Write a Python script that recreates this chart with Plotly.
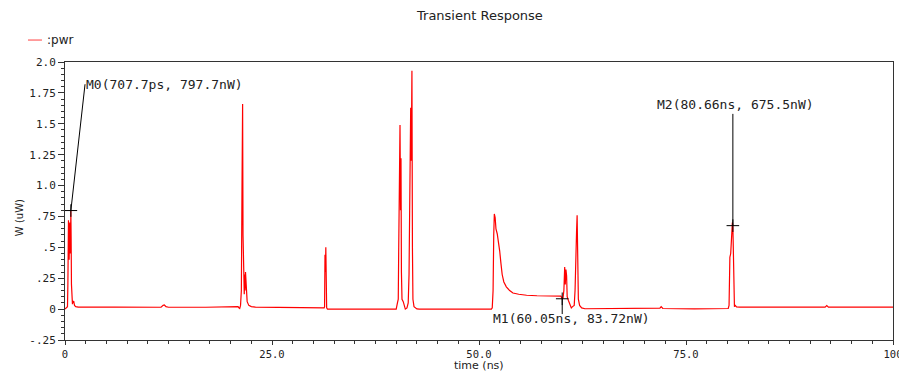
import plotly.graph_objects as go

# ---- data (time in ns, power in uW) ----
time_ns = [
    0.0, 0.15, 0.3, 0.35, 0.42, 0.5, 0.58, 0.65, 0.7077, 0.74, 0.78, 0.82, 0.86, 0.9, 0.94, 0.98, 1.05, 1.15, 1.3, 1.6,
    6.0, 11.6, 11.85, 12.0, 12.2, 12.5,
    17.0, 20.7, 20.9, 21.0, 21.1, 21.2, 21.3, 21.38, 21.45, 21.5, 21.55, 21.6, 21.65, 21.7, 21.75, 21.8, 21.9, 22.0, 22.2, 22.5, 23.0,
    28.0, 31.2, 31.3, 31.35, 31.4, 31.45, 31.5, 31.55, 31.6, 31.7,
    36.0, 40.0, 40.15, 40.25, 40.3, 40.38, 40.46, 40.52, 40.58, 40.63, 40.7, 40.85, 41.0, 41.1, 41.3, 41.45, 41.55, 41.62, 41.75, 41.82, 41.9, 41.96, 42.02, 42.15, 42.3, 42.5, 42.8,
    47.0, 51.5, 51.6, 51.7, 51.78, 51.85, 51.95, 52.05, 52.2, 52.35, 52.5, 52.65, 52.8, 53.0, 53.3, 53.7, 54.1, 54.8, 55.75, 57.0, 58.5, 59.6, 59.9,
    60.05, 60.15, 60.25, 60.35, 60.42, 60.5, 60.58, 60.65, 60.8, 61.0, 61.15, 61.3, 61.5, 61.6, 61.7, 61.78, 61.85, 61.92, 62.0, 62.15, 62.4, 62.8,
    67.0, 71.7, 71.85, 72.0, 72.2,
    76.0, 80.0, 80.1, 80.2, 80.3, 80.4, 80.5, 80.6, 80.66, 80.72, 80.78, 80.85, 80.95, 81.1, 81.5,
    86.0, 91.8, 92.0, 92.2, 96.0, 100.0,
]
power_uw = [
    0.0, 0.01, 0.02, 0.21, 0.72, 0.40, 0.70, 0.45, 0.7977, 0.58, 0.20, 0.05, 0.07, 0.04, 0.07, 0.05, 0.065, 0.03, 0.02, 0.016,
    0.016, 0.015, 0.03, 0.033, 0.02, 0.015,
    0.015, 0.015, 0.02, 0.01, 0.005, 0.03, 0.15, 1.02, 1.66, 0.60, 0.20, 0.25, 0.12, 0.28, 0.15, 0.30, 0.12, 0.06, 0.03, 0.02, 0.016,
    0.016, 0.016, 0.01, 0.02, 0.44, 0.30, 0.50, 0.10, 0.01, 0.0,
    0.0, 0.0, 0.05, 0.08, 0.46, 0.90, 1.49, 0.80, 1.22, 0.30, 0.08, 0.06, 0.02, 0.0, 0.01, 0.05, 0.28, 0.90, 1.63, 1.20, 1.93, 0.50, 0.08, 0.02, 0.015, 0.002, 0.0,
    0.0, 0.0, 0.01, 0.15, 0.60, 0.77, 0.74, 0.65, 0.61, 0.55, 0.47, 0.37, 0.28, 0.22, 0.18, 0.15, 0.13, 0.12, 0.112, 0.108, 0.107, 0.106, 0.105,
    0.0837, 0.09, 0.15, 0.34, 0.20, 0.32, 0.27, 0.10, 0.07, 0.04, 0.01, 0.02, 0.03, 0.15, 0.55, 0.62, 0.76, 0.30, 0.08, 0.03, 0.01, 0.003,
    0.003, 0.003, 0.008, 0.02, 0.005,
    0.002, 0.002, 0.005, 0.03, 0.42, 0.45, 0.60, 0.70, 0.6755, 0.30, 0.05, 0.02, 0.03, 0.018, 0.016,
    0.016, 0.016, 0.028, 0.016, 0.016, 0.016,
]

marker_names = ["M0", "M1", "M2"]
marker_t = [0.7077, 60.05, 80.66]
marker_v = [0.7977, 0.08372, 0.6755]
marker_labels = ["M0(707.7ps, 797.7nW)", "M1(60.05ns, 83.72nW)", "M2(80.66ns, 675.5nW)"]
# label anchor positions (data coords)
label_t = [2.3, 51.4, 71.3]
label_v = [1.82, -0.073, 1.66]
line_end_t = [2.42, 60.05, 80.66]
line_end_v = [1.82, -0.04, 1.58]

x_tickvals = [0, 25, 50, 75, 100]
x_ticktext = ["0", "25.0", "50.0", "75.0", "100"]
y_tickvals = [-0.25, 0, 0.25, 0.5, 0.75, 1.0, 1.25, 1.5, 1.75, 2.0]
y_ticktext = ["-.25", "0", ".25", ".5", ".75", "1.0", "1.25", "1.5", "1.75", "2.0"]

AX = "#333333"
YTICKFONT = dict(family="DejaVu Sans Mono", size=11, color="#222222")
XTICKFONT = dict(family="DejaVu Sans Mono", size=10.5, color="#222222")

fig = go.Figure()
fig.add_trace(go.Scatter(x=time_ns, y=power_uw, mode="lines", name=":pwr",
                         line=dict(color="#ff0000", width=1.2), showlegend=False))
fig.add_trace(go.Scatter(x=marker_t, y=marker_v, mode="markers", showlegend=False,
                         marker=dict(symbol="cross-thin", size=9, line=dict(color="black", width=1))))

shapes = []
for mt, mv, et, ev in zip(marker_t, marker_v, line_end_t, line_end_v):
    shapes.append(dict(type="line", xref="x", yref="y", x0=mt, y0=mv, x1=et, y1=ev,
                       line=dict(color="black", width=1)))
# manual legend sample
shapes.append(dict(type="line", xref="paper", yref="paper", x0=-0.0447, x1=-0.0278,
                   y0=1.079, y1=1.079, line=dict(color="#ff4040", width=1)))

annotations = []
for txt, lt, lv in zip(marker_labels, label_t, label_v):
    annotations.append(dict(x=lt, y=lv, xref="x", yref="y", text=txt, showarrow=False,
                            xanchor="left", yanchor="middle",
                            font=dict(family="DejaVu Sans Mono", size=13, color="#222222")))
annotations += [
    dict(x=-0.0242, y=1.079, xref="paper", yref="paper", text=":pwr", showarrow=False,
         xanchor="left", yanchor="middle", font=dict(family="DejaVu Sans", size=12, color="#222222")),
    dict(x=0.5, y=1.169, xref="paper", yref="paper", text="Transient Response", showarrow=False,
         xanchor="center", yanchor="middle", font=dict(family="DejaVu Sans", size=13, color="#222222")),
    dict(x=0.5, y=-0.091, xref="paper", yref="paper", text="time (ns)", showarrow=False,
         xanchor="center", yanchor="middle", font=dict(family="DejaVu Sans", size=11, color="#222222")),
    dict(x=-0.055, y=0.44, xref="paper", yref="paper", text="W (uW)", showarrow=False, textangle=-90,
         xanchor="center", yanchor="middle", font=dict(family="DejaVu Sans", size=10, color="#222222")),
]

# page body has an 8px margin, so the figure is sized to fill the remaining window
fig.update_layout(
    width=899, height=364,
    margin=dict(l=57, r=14, t=54, b=32, autoexpand=False),
    paper_bgcolor="white", plot_bgcolor="white",
    shapes=shapes, annotations=annotations,
    xaxis=dict(range=[0, 100], tickmode="array", tickvals=x_tickvals, ticktext=x_ticktext,
               ticks="outside", ticklen=4, tickcolor=AX, showline=True, linecolor=AX, linewidth=1,
               mirror=True, showgrid=False, zeroline=False, tickfont=XTICKFONT, automargin=False,
               minor=dict(tickmode="linear", tick0=0, dtick=2.5, ticks="outside", ticklen=3,
                          tickcolor=AX, showgrid=False)),
    yaxis=dict(range=[-0.25, 2.0], tickmode="array", tickvals=y_tickvals, ticktext=y_ticktext,
               ticks="outside", ticklen=6, tickcolor=AX, showline=True, linecolor=AX, linewidth=1,
               mirror=True, showgrid=False, zeroline=False, tickfont=YTICKFONT, automargin=False,
               minor=dict(tickmode="linear", tick0=0, dtick=0.05, ticks="outside", ticklen=3,
                          tickcolor=AX, showgrid=False)),
)

fig.write_html("out.html")
